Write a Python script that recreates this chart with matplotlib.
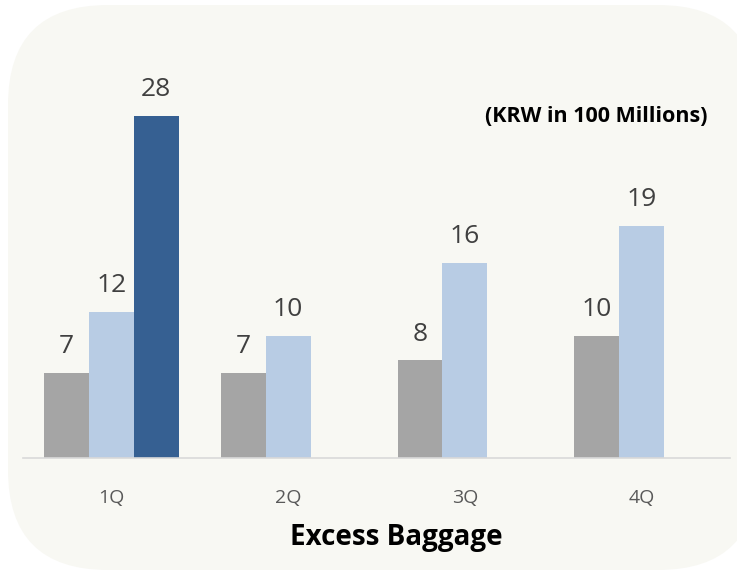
import numpy as np
import matplotlib
matplotlib.use("Agg")
import matplotlib.pyplot as plt
from matplotlib.patches import FancyBboxPatch
from matplotlib.transforms import IdentityTransform

plt.rcParams['font.family'] = ['Open Sans', 'DejaVu Sans']

categories = ["1Q", "2Q", "3Q", "4Q"]
series_gray = [7, 7, 8, 10]
series_light = [12, 10, 16, 19]
series_dark = [28, np.nan, np.nan, np.nan]
title = "Excess Baggage"
unit_label = "(KRW in 100 Millions)"

colors = ["#A5A5A5", "#B8CCE4", "#366092"]

fig = plt.figure(figsize=(7.37, 5.71), dpi=100)
fig.patch.set_facecolor("white")

bg = FancyBboxPatch((8, 1), 750, 565, boxstyle="round,pad=0,rounding_size=100",
                    transform=IdentityTransform(), facecolor="#F8F8F3",
                    edgecolor="none", zorder=-5)
fig.patches.append(bg)

ax = fig.add_axes([23 / 737, 113 / 571, 707 / 737, 438 / 571])
ax.set_facecolor("none")
ax.set_zorder(2)

x = np.arange(len(categories))
w = 0.254
for i, (vals, c) in enumerate(zip([series_gray, series_light, series_dark], colors)):
    bars = ax.bar(x + (i - 1) * w, vals, width=w, color=c, zorder=2)
    labels = ["" if np.isnan(v) else f"{v:g}" for v in vals]
    ax.bar_label(bars, labels=labels, padding=10, fontsize=19, color="#404040")

ax.set_xlim(-0.5, len(categories) - 0.5)
ax.set_ylim(0, 35.9)
ax.set_xticks(x)
ax.set_xticklabels(categories, fontsize=14, color="#595959")
ax.tick_params(axis="x", length=0, pad=22.5)
ax.set_yticks([])
for s in ["top", "right", "left"]:
    ax.spines[s].set_visible(False)
ax.spines["bottom"].set_color("#D9D9D9")
ax.spines["bottom"].set_linewidth(1.2)

fig.text(396 / 737, 1 - 537 / 571, title, ha="center", va="center",
         fontsize=20, fontweight="bold", color="black")
fig.text(596 / 737, 1 - 116 / 571, unit_label, ha="center", va="center",
         fontsize=15.5, fontweight="bold", color="black")

fig.savefig("out.png", dpi=100)
